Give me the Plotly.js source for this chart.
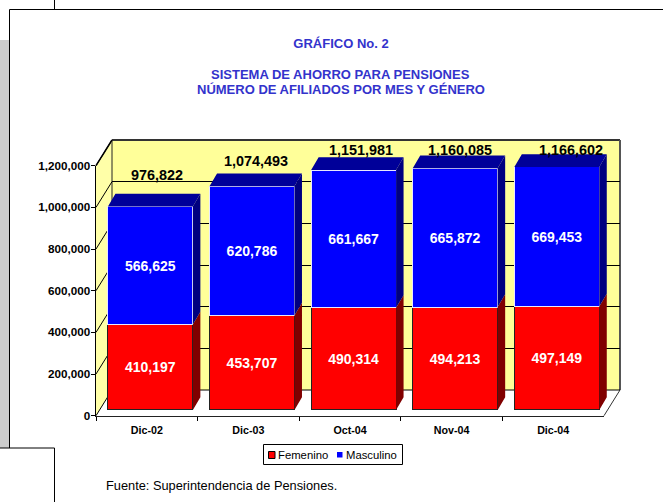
<!DOCTYPE html>
<html><head><meta charset="utf-8">
<script src="https://cdn.plot.ly/plotly-3.0.1.min.js"></script>
<style>html,body{margin:0;padding:0;background:#fff}#c{width:663px;height:502px}</style>
</head><body><div id="c"></div>
<script>
const categories = ['Dic-02','Dic-03','Oct-04','Nov-04','Dic-04'];
const femenino = [410197,453707,490314,494213,497149];
const masculino = [566625,620786,661667,665872,669453];
const totales = [976822,1074493,1151981,1160085,1166602];
const yTicks = [0,200000,400000,600000,800000,1000000,1200000];
const tituloLineas = ['SISTEMA DE AHORRO PARA PENSIONES','NÚMERO DE AFILIADOS POR MES Y GÉNERO'];

const W=663,H=502, FONT='"Liberation Sans",Arial,sans-serif';
const fx=p=>p/W, fy=p=>1-p/H;
const front={l:96,r:604,b:415.7,t:165.7}, depth={x:16,y:25.7};
const pxPerUnit=250/1200000, unitsPerPx=1/pxPerUnit, catW=(front.r-front.l)/5;
const barShift={x:3.6,y:5.7}, barFace={x:7.5,y:12.7}, yMaxBars=1300000;
const barBase=front.b-barShift.y;
const RED='#FF0000',BLUE='#0000FF',RED_S='#800000',BLUE_S='#000080',BLUE_T='#000099',WALL='#FFFF99',TITLE='#3333CC';
const barWidth=0.836;
const dxU=barFace.x/catW, dyU=barFace.y*unitsPerPx;
function poly(fnPts){const xs=[],ys=[];categories.forEach((_,i)=>{fnPts(i).forEach(p=>{xs.push(p[0]);ys.push(p[1]);});xs.push(null);ys.push(null);});return {xs,ys};}
const sideRed=poly(i=>{const r=i+barWidth/2,t=femenino[i];return [[r,0],[r+dxU,dyU],[r+dxU,t+dyU],[r,t],[r,0]];});
const sideBlue=poly(i=>{const r=i+barWidth/2,a=femenino[i],t=totales[i];return [[r,a],[r+dxU,a+dyU],[r+dxU,t+dyU],[r,t],[r,a]];});
const topBlue=poly(i=>{const l=i-barWidth/2,r=i+barWidth/2,t=totales[i];return [[l,t],[r,t],[r+dxU,t+dyU],[l+dxU,t+dyU],[l,t]];});
const face=(d,c,n)=>({type:'scatter',mode:'lines',x:d.xs,y:d.ys,xaxis:'x2',yaxis:'y2',fill:'toself',fillcolor:c,line:{width:0,color:c},hoverinfo:'skip',showlegend:false,name:n});
const inner={size:14,color:'#fff',family:FONT,weight:700};
const idx=categories.map((_,i)=>i);
const traces=[
 {type:'scatter',x:[0,1],y:[0,1],mode:'none',xaxis:'x',yaxis:'y',hoverinfo:'skip',showlegend:false},
 {type:'bar',name:'Femenino',x:idx,y:femenino,xaxis:'x2',yaxis:'y2',width:barWidth,marker:{color:RED,line:{color:'#222',width:1}},
  texttemplate:'%{y:,d}',textposition:'inside',insidetextanchor:'middle',textangle:0,insidetextfont:inner,constraintext:'none'},
 {type:'bar',name:'Masculino',x:idx,y:masculino,xaxis:'x2',yaxis:'y2',width:barWidth,marker:{color:BLUE,line:{color:'#E8E8FF',width:1}},
  texttemplate:'%{y:,d}',textposition:'inside',insidetextanchor:'middle',textangle:0,insidetextfont:inner,constraintext:'none'},
 face(sideRed,RED_S,'lado F'),face(sideBlue,BLUE_S,'lado M'),face(topBlue,BLUE_T,'tope'),
 {type:'scatter',mode:'none',x:categories,y:yTicks.slice(0,5),xaxis:'x3',yaxis:'y3',hoverinfo:'skip',showlegend:false}
];
const line=(x0,y0,x1,y1,c,w,layer)=>({type:'line',xref:'paper',yref:'paper',x0:fx(x0),y0:fy(y0),x1:fx(x1),y1:fy(y1),line:{color:c,width:w},layer:layer||'below'});
const path=(pts,fill,c,w)=>({type:'path',xref:'paper',yref:'paper',layer:'below',fillcolor:fill,line:{color:c||fill,width:w===undefined?0:w},
  path:'M'+pts.map(p=>fx(p[0])+','+fy(p[1])).join('L')+'Z'});
const bx=front.l+depth.x, bt=front.t-depth.y, bb=front.b-depth.y, brx=front.r+depth.x;
const shapes=[
 {type:'rect',xref:'paper',yref:'paper',layer:'below',x0:0,x1:fx(9),y0:fy(40),y1:fy(448),fillcolor:'#CCCCCC',line:{width:0}},
 path([[bx,bt],[brx,bt],[brx,bb],[bx,bb]],WALL),
 path([[front.l,front.b],[bx,bb],[bx,bt],[front.l,front.t]],'#FFFFA8'),
 line(front.l,front.t,bx,bt,'#000',1.5),
 line(bx,bt,brx,bt,'#333',2),
 line(brx,bt,brx,bb,'#555',2),
 line(front.r,front.b,brx,bb,'#333',1),
 line(bx,bb,brx,bb,'#000',1),
 line(bx,bt,bx,bb,'#222',1),
 ...yTicks.map(v=>{const y=front.b-v*pxPerUnit;return line(front.l,y,bx,y-depth.y,'#000',1);}),
 line(9.5,9.5,W,9.5,'#000',1),line(9.5,9.5,9.5,448,'#000',1),line(54.5,0,54.5,9.5,'#000',1),
 line(0,448,54.5,448,'#000',1),line(54.5,448,54.5,H,'#000',1),
 {type:'rect',xref:'paper',yref:'paper',layer:'above',x0:fx(263.5),x1:fx(402.5),y0:fy(444.5),y1:fy(464.5),fillcolor:'#fff',line:{color:'#000',width:1}},
 {type:'rect',xref:'paper',yref:'paper',layer:'above',x0:fx(268.5),x1:fx(275),y0:fy(451.5),y1:fy(458.5),fillcolor:RED,line:{color:'#000',width:1}},
 {type:'rect',xref:'paper',yref:'paper',layer:'above',x0:fx(337),x1:fx(342.5),y0:fy(452),y1:fy(457.5),fillcolor:BLUE,line:{width:0}}
];
const totalShift={x:[6.3,4,7,5,14],y:[-31.7,-25,-20,-18.3,-17.3]};
const tituloFont={family:FONT,size:13,color:TITLE,weight:700};
const annotations=[
 ...totales.map((t,i)=>({xref:'x2',yref:'y2',x:i,y:t,text:t.toLocaleString('en-US'),showarrow:false,xshift:totalShift.x[i],yshift:-totalShift.y[i],
   xanchor:'center',yanchor:'middle',font:{family:FONT,size:14.4,color:'#000',weight:700}})),
 {xref:'paper',yref:'paper',x:fx(341),y:fy(74.5),xanchor:'center',yanchor:'middle',showarrow:false,text:tituloLineas[0],font:tituloFont},
 {xref:'paper',yref:'paper',x:fx(341),y:fy(89.5),xanchor:'center',yanchor:'middle',showarrow:false,text:tituloLineas[1],font:tituloFont},
 {xref:'paper',yref:'paper',x:fx(278),y:fy(455),xanchor:'left',yanchor:'middle',showarrow:false,text:'Femenino',font:{family:FONT,size:11.3,color:'#000'},xshift:-2},
 {xref:'paper',yref:'paper',x:fx(346),y:fy(455),xanchor:'left',yanchor:'middle',showarrow:false,text:'Masculino',font:{family:FONT,size:11.3,color:'#000'},xshift:-2},
 {xref:'paper',yref:'paper',x:fx(106),y:fy(485),xanchor:'left',yanchor:'middle',showarrow:false,text:'Fuente: Superintendencia de Pensiones.',font:{family:FONT,size:12.8,color:'#000'},xshift:-2}
];
const hidden={visible:false,fixedrange:true};
const layout={
 width:W,height:H,autosize:false,margin:{l:0,r:0,t:0,b:0},paper_bgcolor:'#fff',plot_bgcolor:'rgba(0,0,0,0)',showlegend:false,barmode:'stack',
 title:{text:'GRÁFICO No. 2',x:fx(341),xanchor:'center',y:fy(43),yanchor:'middle',font:tituloFont},
 xaxis:{...hidden,domain:[fx(bx),fx(brx)],range:[0,1],anchor:'y'},
 yaxis:{domain:[fy(bb),fy(bt)],range:[0,1200000],tickvals:yTicks,showgrid:true,gridcolor:'#000',gridwidth:1,zeroline:false,showline:false,ticks:'',showticklabels:false,anchor:'x',fixedrange:true},
 xaxis2:{...hidden,domain:[fx(front.l+barShift.x),fx(front.r+barShift.x)],range:[-0.5,4.5],anchor:'y2'},
 yaxis2:{...hidden,domain:[fy(barBase),fy(barBase-yMaxBars*pxPerUnit)],range:[0,yMaxBars],anchor:'x2'},
 xaxis3:{domain:[fx(front.l),fx(front.r)],type:'category',categoryorder:'array',categoryarray:categories,range:[-0.5,4.5],tickson:'boundaries',ticks:'outside',ticklen:4,tickcolor:'#000',tickwidth:1,
  ticklabelstandoff:4,showline:true,linecolor:'#222',linewidth:1.5,showgrid:false,zeroline:false,tickfont:{family:FONT,size:10.7,color:'#000',weight:700},anchor:'y3',fixedrange:true,tickangle:0},
 yaxis3:{domain:[fy(front.b),fy(front.t)],range:[0,1200000],tickvals:yTicks,tickformat:',d',ticks:'outside',ticklen:4,tickcolor:'#000',tickwidth:1,showline:true,linecolor:'#000',linewidth:1.5,showgrid:false,zeroline:false,
  ticklabelstandoff:-2,tickfont:{family:FONT,size:11.7,color:'#000',weight:700},anchor:'x3',fixedrange:true},
 shapes,annotations
};
Plotly.newPlot('c',traces,layout,{displayModeBar:false,staticPlot:true});
</script></body></html>
